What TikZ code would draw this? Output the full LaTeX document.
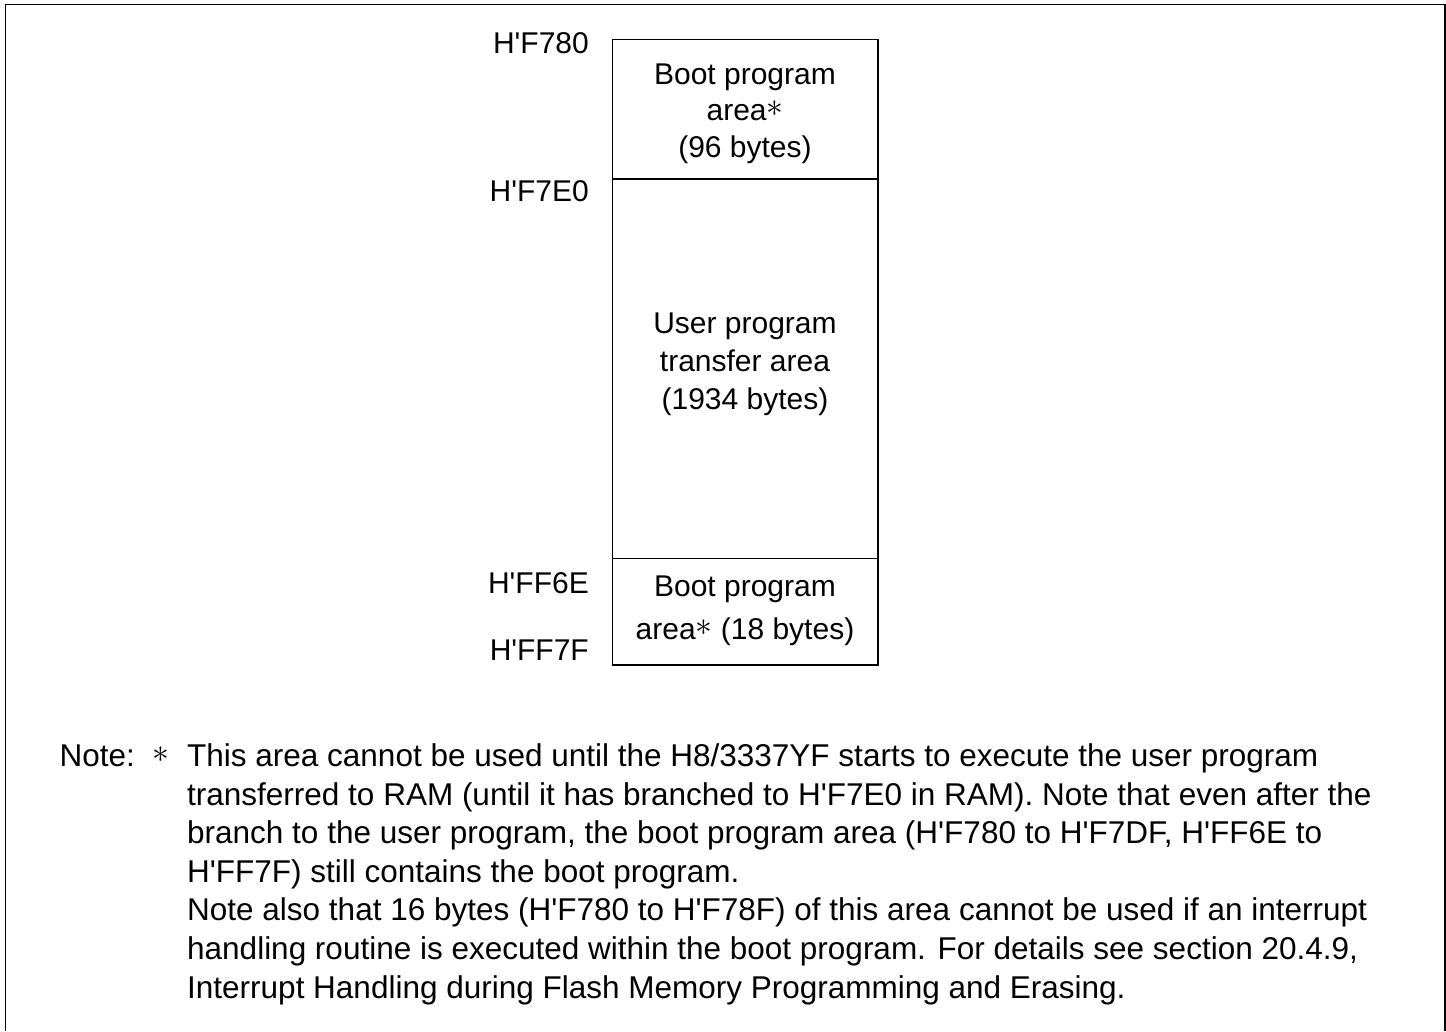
\documentclass[tikz,border=0pt]{standalone}
\usepackage{fontspec}
\usepackage{graphicx}
\setmainfont{Liberation Sans}
\newcommand{\myast}{\smash{\raisebox{0.12em}{\scalebox{1.35}{$\ast$}}}}
\newcommand{\ap}{\textquotesingle}
\begin{document}
\begin{tikzpicture}[x=1pt,y=-1pt,
  txt/.style={font=\fontsize{30}{38}\selectfont,inner sep=0pt},
  ntxt/.style={font=\fontsize{31.5}{38}\selectfont,inner sep=0pt,anchor=base west},
  lbl/.style={txt,anchor=base east},
  ctr/.style={txt,anchor=base},
  memline/.style={line width=1.2pt}]
\useasboundingbox (0,0) rectangle (1446,1031);
% frame
\draw[line width=1.6pt] (5.5,1031) -- (5.5,4.5) -- (1444.8,4.5) -- (1444.8,1031);
% memory map
\coordinate (tl) at (612.5,39.5);
\coordinate (br) at (878,665);
\draw[memline] (tl) rectangle (br);
\coordinate (d1l) at (612.5,179); \coordinate (d1r) at (878,179);
\coordinate (d2l) at (612.5,558.5); \coordinate (d2r) at (878,558.5);
\draw[memline] (d1l) -- (d1r);
\draw[memline] (d2l) -- (d2r);
% address labels
\node[lbl] (a1) at (589,53) {H\ap F780};
\node[lbl] (a2) at (589,201) {H\ap F7E0};
\node[lbl] (a3) at (589,593) {H\ap FF6E};
\node[lbl] (a4) at (589,660) {H\ap FF7F};
% box texts
\node[ctr] (t1) at (745,84) {Boot program};
\node[ctr] (t2) at (745,120.5) {area\myast};
\node[ctr] (t3) at (745,157) {(96 bytes)};
\node[ctr] (m1) at (745,333) {User program};
\node[ctr] (m2) at (745,371) {transfer area};
\node[ctr] (m3) at (745,409) {(1934 bytes)};
\node[ctr] (b1) at (745,596) {Boot program};
\node[ctr] (b2) at (745,639) {area\myast{} (18 bytes)};
% note
\node[ntxt] (nl) at (59.5,766.5) {Note:};
\node[ntxt] (ns) at (152,766.5) {\myast};
\node[ntxt] (n1) at (187,766.5) {This area cannot be used until the H8/3337YF starts to execute the user program};
\node[ntxt] (n2) at (187,805.1) {transferred to RAM (until it has branched to H\ap F7E0 in RAM). Note that even after the};
\node[ntxt] (n3) at (187,843.7) {branch to the user program, the boot program area (H\ap F780 to H\ap F7DF, H\ap FF6E to};
\node[ntxt] (n4) at (187,882.3) {H\ap FF7F) still contains the boot program.};
\node[ntxt] (n5) at (187,920.9) {Note also that 16 bytes (H\ap F780 to H\ap F78F) of this area cannot be used if an interrupt};
\node[ntxt] (n6) at (187,959.5) {handling routine is executed within the boot program. For details see section 20.4.9,};
\node[ntxt] (n7) at (187,998.1) {Interrupt Handling during Flash Memory Programming and Erasing.};
\end{tikzpicture}
\end{document}
